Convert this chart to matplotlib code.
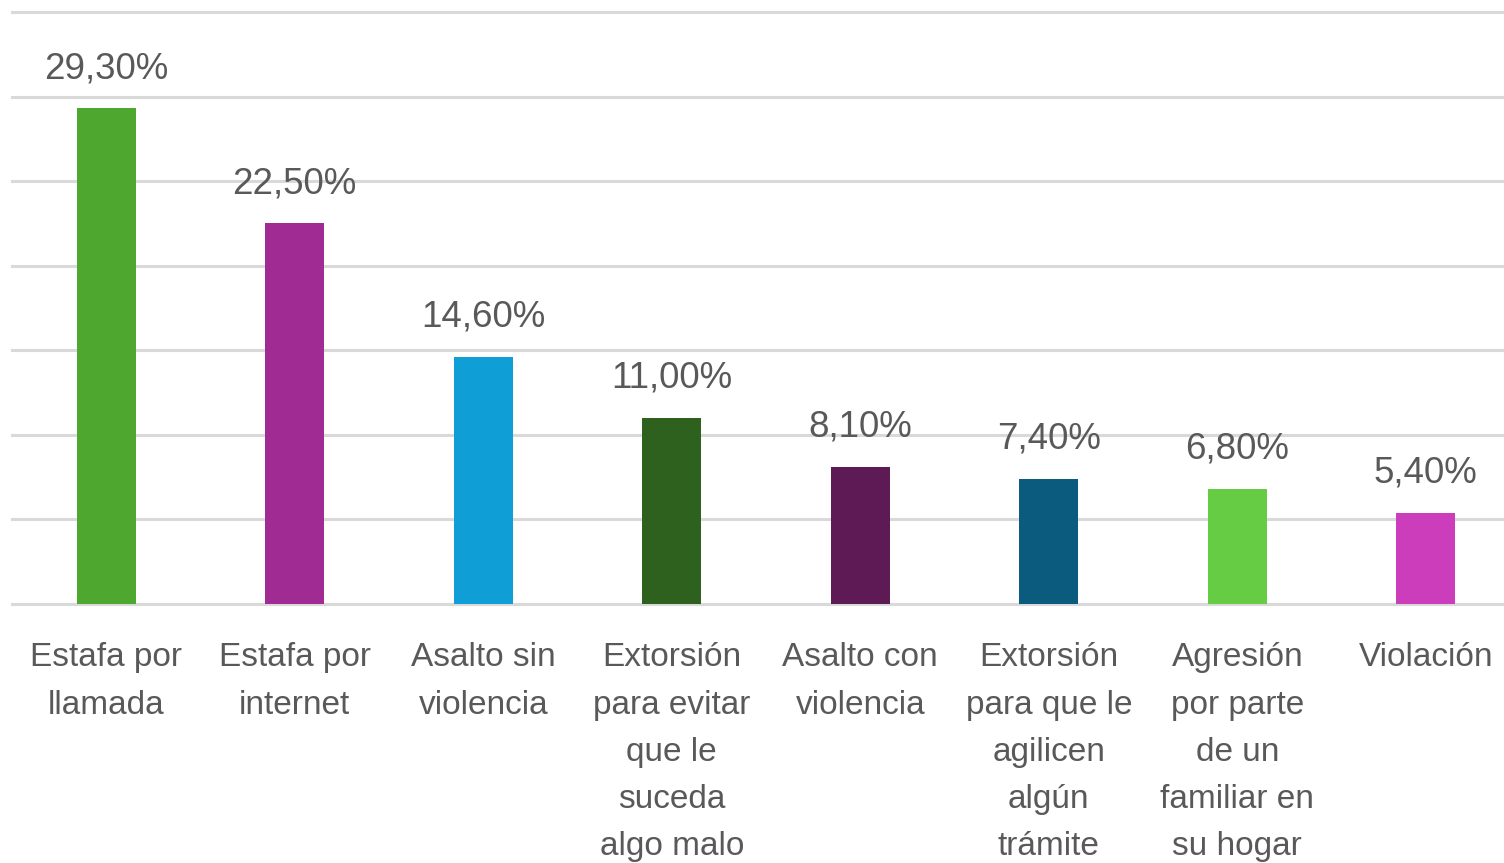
import matplotlib
matplotlib.use("Agg")
import matplotlib.pyplot as plt
import numpy as np

categories = [
    "Estafa por\nllamada",
    "Estafa por\ninternet",
    "Asalto sin\nviolencia",
    "Extorsión\npara evitar\nque le\nsuceda\nalgo malo",
    "Asalto con\nviolencia",
    "Extorsión\npara que le\nagilicen\nalgún\ntrámite",
    "Agresión\npor parte\nde un\nfamiliar en\nsu hogar",
    "Violación",
]
values = [29.3, 22.5, 14.6, 11.0, 8.1, 7.4, 6.8, 5.4]
colors = ["#4EA72E", "#A02B93", "#0F9ED5", "#2D611D",
          "#5E1A54", "#0B5B7E", "#66CC44", "#CC3DBC"]

TEXT = "#595959"
GRID = "#D9D9D9"

plt.rcParams["font.family"] = ["Liberation Sans", "DejaVu Sans"]

fig = plt.figure(figsize=(15.04, 8.63), dpi=100)
# plot area runs a bit past the right edge, like the cropped original
ax = fig.add_axes([12 / 1504, 1 - 604 / 863, 1508 / 1504, 592 / 863])

x = np.arange(len(values))
bars = ax.bar(x, values, width=0.315, color=colors, zorder=3)

ax.set_xlim(-0.5, len(values) - 0.5)
ax.set_ylim(0, 35)
ax.set_yticks(np.arange(0, 36, 5))
ax.yaxis.grid(True, color=GRID, linewidth=2.2, zorder=0)
for gl in ax.get_ygridlines():
    gl.set_clip_on(False)
ax.tick_params(axis="y", left=False, labelleft=False)
for s in ["top", "right", "left", "bottom"]:
    ax.spines[s].set_visible(False)

for b, v in zip(bars, values):
    ax.annotate(f"{v:.2f}%".replace(".", ","),
                (b.get_x() + b.get_width() / 2, v),
                xytext=(0, 16), textcoords="offset points",
                ha="center", va="bottom", fontsize=26.5, color=TEXT)

ax.set_xticks(x)
ax.set_xticklabels(categories, fontsize=24, color=TEXT, linespacing=1.68,
                   va="top")
ax.tick_params(axis="x", bottom=False, pad=24)

fig.savefig("out.png", dpi=100)
